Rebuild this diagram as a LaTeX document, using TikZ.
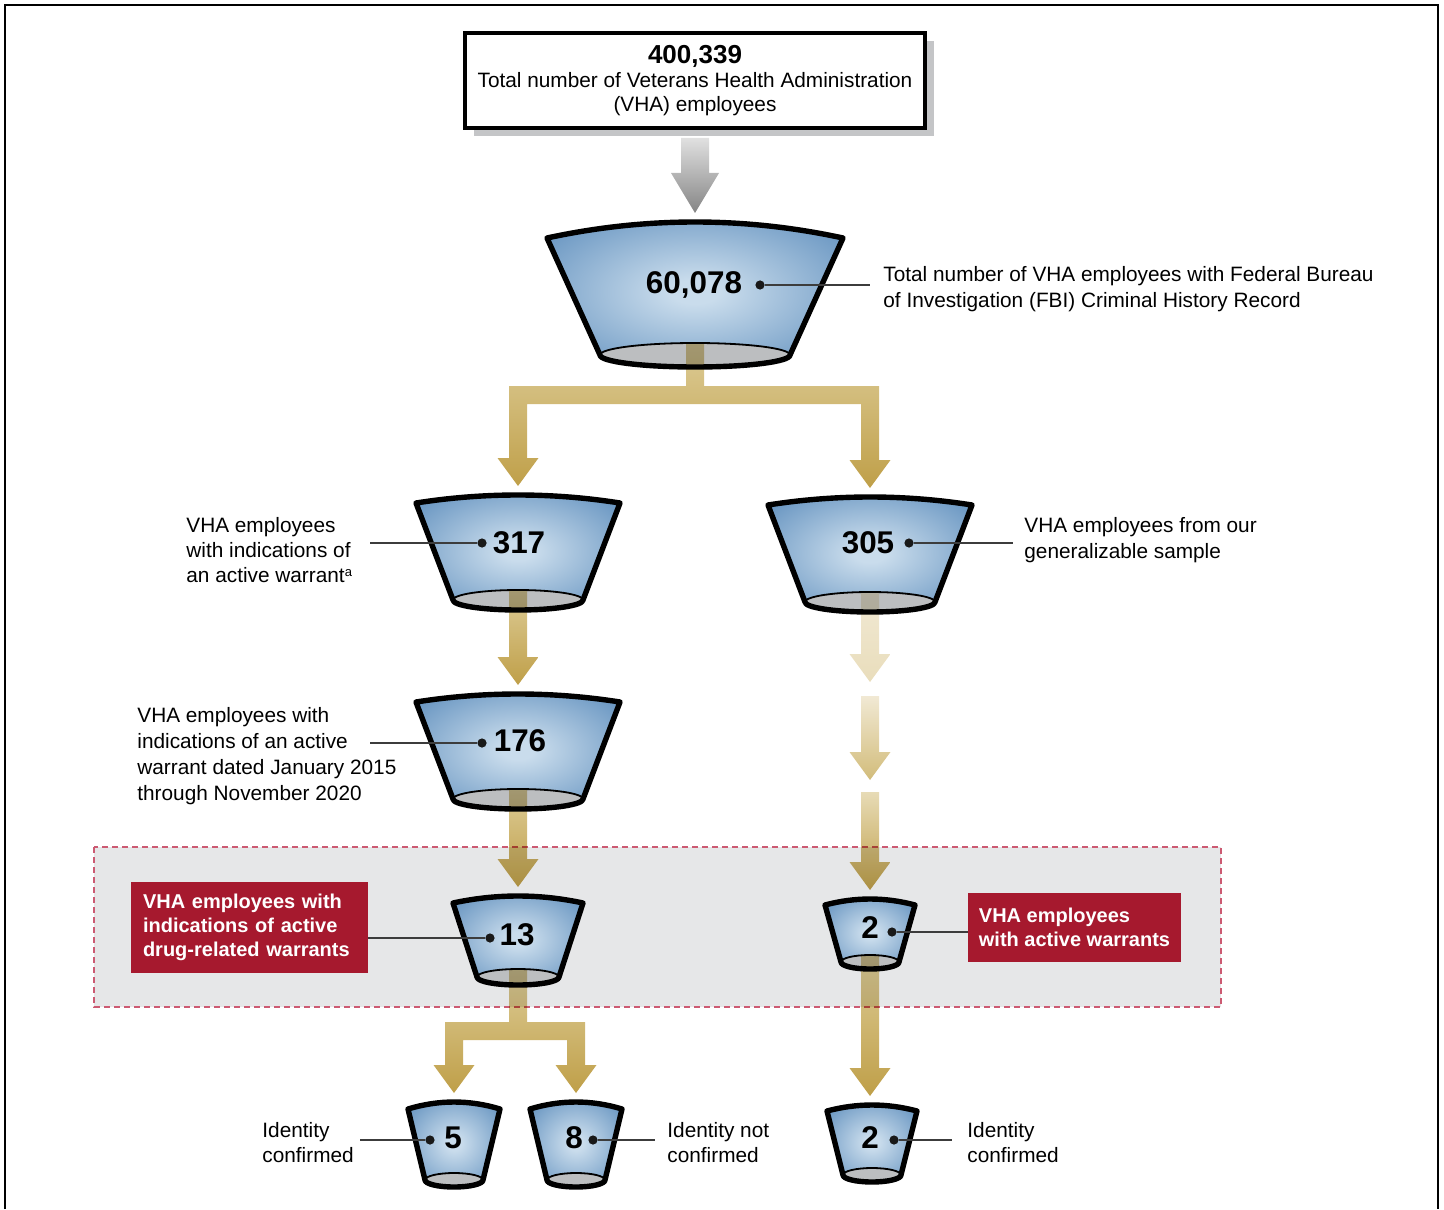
\documentclass[tikz,border=0pt]{standalone}
\usepackage{fontspec}
\setmainfont{Liberation Sans}
\usetikzlibrary{calc,shadows}

\definecolor{funneldark}{HTML}{5A8BBB}
\definecolor{funnellight}{HTML}{C9DCEC}
\definecolor{basegray}{HTML}{BCBEC0}
\definecolor{goldlight}{HTML}{DDCC97}
\definecolor{golddark}{HTML}{BF9F48}
\definecolor{paleA}{HTML}{F1E9D4}
\definecolor{paleB}{HTML}{E9DDBB}
\definecolor{paleC}{HTML}{D2BC7A}
\definecolor{gaored}{HTML}{A6192E}
\definecolor{focusgray}{HTML}{E6E7E8}
\definecolor{focusline}{HTML}{CC5A72}
\definecolor{shadowgray}{HTML}{C4C5C7}
\definecolor{leadgray}{HTML}{3C3C3C}

\pgfdeclareradialshading{funnelglow}{\pgfpoint{0bp}{0bp}}{color(0bp)=(funnellight); color(4bp)=(funnellight); color(36bp)=(funneldark); color(50bp)=(funneldark)}

\newlength\arrbar \setlength\arrbar{4.5pt}
\newlength\arrhead \setlength\arrhead{10.25pt}
\newlength\arrlen \setlength\arrlen{14pt}
\newlength\arrthick \setlength\arrthick{9pt}

\newcommand{\fatarrow}[3][goldshade]{%
  \shade[#1] let \p1=(#2), \p2=(#3) in
    (\x1-\arrbar,\y1) -- (\x1-\arrbar,\y2+\arrlen) -- (\x1-\arrhead,\y2+\arrlen) -- (\x1,\y2)
    -- (\x1+\arrhead,\y2+\arrlen) -- (\x1+\arrbar,\y2+\arrlen) -- (\x1+\arrbar,\y1) -- cycle;}

\newcommand{\forkarrow}[5][goldshade]{%
  \shade[#1] let \p1=(#2), \p2=(#3), \p3=(#4), \p4=(#5) in
    (\x1-\arrbar,\y1) -- (\x1-\arrbar,\y2) -- (\x3-\arrbar,\y2) -- (\x3-\arrbar,\y3+\arrlen)
    -- (\x3-\arrhead,\y3+\arrlen) -- (\x3,\y3) -- (\x3+\arrhead,\y3+\arrlen) -- (\x3+\arrbar,\y3+\arrlen)
    -- (\x3+\arrbar,\y2-\arrthick) -- (\x4-\arrbar,\y2-\arrthick) -- (\x4-\arrbar,\y4+\arrlen)
    -- (\x4-\arrhead,\y4+\arrlen) -- (\x4,\y4) -- (\x4+\arrhead,\y4+\arrlen) -- (\x4+\arrbar,\y4+\arrlen)
    -- (\x4+\arrbar,\y2) -- (\x1+\arrbar,\y2) -- (\x1+\arrbar,\y1) -- cycle;}

\newcommand{\funnel}[8]{%
  \shade[funnelshade] (#2-#4,#3) .. controls (#2-#4/3,#3-#5*4/3) and (#2+#4/3,#3-#5*4/3) .. (#2+#4,#3)
    -- (#2+#7,#6) arc[start angle=0,end angle=180,x radius=#7,y radius=#8] -- cycle;
  \filldraw[funnelbase] (#2,#6) ellipse[x radius=#7,y radius=#8];
  \draw[funnelrim] (#2-#4,#3) .. controls (#2-#4/3,#3-#5*4/3) and (#2+#4/3,#3-#5*4/3) .. (#2+#4,#3)
    -- (#2+#7,#6) arc[start angle=0,end angle=180,x radius=#7,y radius=#8] -- cycle;
  \coordinate (#1-out) at (#2,#6-#8);
  \coordinate (#1-in) at (#2,#3-#5-9);}

\begin{document}
\begin{tikzpicture}[x=0.5pt,y=-0.5pt,
    funnelshade/.style={shading=funnelglow},
    funnelbase/.style={fill=basegray,draw=black,line width=0.9pt},
    funnelrim/.style={draw=black,line width=2.7pt,line join=round},
    goldshade/.style={top color=goldlight,bottom color=golddark,blend mode=multiply},
    grayshade/.style={top color=black!12,bottom color=black!48},
    topbox/.style={draw,line width=2pt,fill=white,minimum width=230pt,minimum height=47.5pt,
      align=center,inner sep=0pt,font=\fontsize{10.4}{12}\selectfont,
      drop shadow={shadow xshift=4.5pt,shadow yshift=-4pt,fill=shadowgray,opacity=1}},
    num/.style={font=\fontsize{15.7}{17}\selectfont\bfseries,inner sep=0pt},
    dot/.style={circle,fill=black!90,inner sep=0pt,minimum size=4.6pt},
    lbl/.style={font=\fontsize{10.4}{12.5}\selectfont,align=left,inner sep=0pt},
    widelbl/.style={lbl,font=\fontsize{10.4}{13}\selectfont},
    redbox/.style={fill=gaored,text=white,font=\fontsize{10}{12}\selectfont\bfseries,align=left,inner ysep=0pt},
    leader/.style={draw=leadgray,line width=0.7pt},
    focusbox/.style={fill=focusgray,draw=focusline,line width=0.6pt,dash pattern=on 3pt off 2pt},
    frame/.style={draw=black,line width=1.4pt}]
  \useasboundingbox (0,0) rectangle (1444,1209);
  \draw[frame] (5,1209) -- (5,5) -- (1438,5) -- (1438,1209);
  \draw[focusbox] (94,847) rectangle (1221,1007);

  \node[topbox] (total) at (695,80.5) {{\fontsize{13}{15}\selectfont\bfseries 400,339}\\Total number of Veterans Health Administration\\(VHA) employees};
  \coordinate (s0) at ([yshift=-4pt]total.south);

  \funnel{f60}{695}{238}{148}{16}{355}{95}{12}
  \funnel{f317}{518}{503}{102}{8}{600}{65}{10}
  \funnel{f305}{870}{505}{102}{8}{602}{65}{10}
  \funnel{f176}{518}{702}{102}{8}{799}{65}{10}
  \funnel{f13}{518}{903}{65}{7}{977}{41}{8}
  \funnel{f2a}{870}{905}{45}{6}{962}{29}{7}
  \funnel{f5}{454}{1109}{46}{7}{1180}{29}{7}
  \funnel{f8}{576}{1109}{46}{7}{1180}{29}{7}
  \funnel{f2b}{872}{1111}{45}{6}{1175}{29}{7}

  \coordinate (k60) at (695,386);
  \coordinate (k13) at (518,1022);
  \coordinate (g1) at (870,682);
  \coordinate (g2) at (870,696);
  \coordinate (g3) at (870,780);
  \coordinate (g4) at (870,792);

  {\setlength\arrbar{7pt}\setlength\arrhead{12pt}\setlength\arrlen{20pt}\fatarrow[grayshade]{s0}{f60-in}}
  \forkarrow{f60-out}{k60}{f317-in}{f305-in}
  \fatarrow{f317-out}{f176-in}
  \fatarrow{f176-out}{f13-in}
  \forkarrow{f13-out}{k13}{f5-in}{f8-in}
  \fatarrow[top color=paleA,bottom color=paleB,blend mode=multiply]{f305-out}{g1}
  \fatarrow[top color=paleA,bottom color=paleC,blend mode=multiply]{g2}{g3}
  \fatarrow[top color=goldlight!70!white,bottom color=golddark,blend mode=multiply]{g4}{f2a-in}
  \fatarrow{f2a-out}{f2b-in}

  \node[redbox,inner xsep=6pt,text width=106.5pt,minimum height=45.5pt] (r13) at (249.5,927.5) {VHA employees with\\indications of active\\drug-related warrants};
  \node[redbox,inner xsep=0pt,minimum width=106.5pt,minimum height=34.5pt] (r2) at (1074.5,927.5) {VHA employees\\with active warrants};

  \node[num] (n60) at (694,285) {60,078};
  \node[num] (n317) at (519,543) {317};
  \node[num] (n305) at (868,543) {305};
  \node[num] (n176) at (520,741) {176};
  \node[num] (n13) at (517,935) {13};
  \node[num] (n2a) at (870,928) {2};
  \node[num] (n5) at (453,1138) {5};
  \node[num] (n8) at (574,1138) {8};
  \node[num] (n2b) at (870,1138) {2};

  \node[dot] (d60) at (760,285) {};
  \node[dot] (d317) at (482,543) {};
  \node[dot] (d305) at (909,543) {};
  \node[dot] (d176) at (482,743) {};
  \node[dot] (d13) at (490,938) {};
  \node[dot] (d2a) at (892,932) {};
  \node[dot] (d5) at (430,1140) {};
  \node[dot] (d8) at (593,1140) {};
  \node[dot] (d2b) at (894,1140) {};

  \coordinate (e60) at (870,285);
  \coordinate (e317) at (370,543);
  \coordinate (e305) at (1013,543);
  \coordinate (e176) at (370,743);
  \coordinate (e5) at (360,1140);
  \coordinate (e8) at (655,1140);
  \coordinate (e2b) at (952,1140);

  \node[widelbl,anchor=west] (l60) at (883,289) {Total number of VHA employees with Federal Bureau\\of Investigation (FBI) Criminal History Record};
  \node[lbl,anchor=west] (l317) at (186,550) {VHA employees\\with indications of\\an active warrant\raisebox{0.55ex}{\fontsize{6.5}{7}\selectfont a}};
  \node[widelbl,anchor=west] (l305) at (1024,540) {VHA employees from our\\generalizable sample};
  \node[widelbl,anchor=west] (l176) at (137,756) {VHA employees with\\indications of an active\\warrant dated January 2015\\through November 2020};
  \node[lbl,anchor=west] (l5) at (262,1143) {Identity\\confirmed};
  \node[lbl,anchor=west] (l8) at (667,1143) {Identity not\\confirmed};
  \node[lbl,anchor=west] (l2b) at (967,1143) {Identity\\confirmed};

  \draw[leader] (d60) -- (e60);
  \draw[leader] (d317) -- (e317);
  \draw[leader] (d305) -- (e305);
  \draw[leader] (d176) -- (e176);
  \draw[leader] (d13) -- (d13 -| r13.east);
  \draw[leader] (d2a) -- (d2a -| r2.west);
  \draw[leader] (d5) -- (e5);
  \draw[leader] (d8) -- (e8);
  \draw[leader] (d2b) -- (e2b);
\end{tikzpicture}
\end{document}
